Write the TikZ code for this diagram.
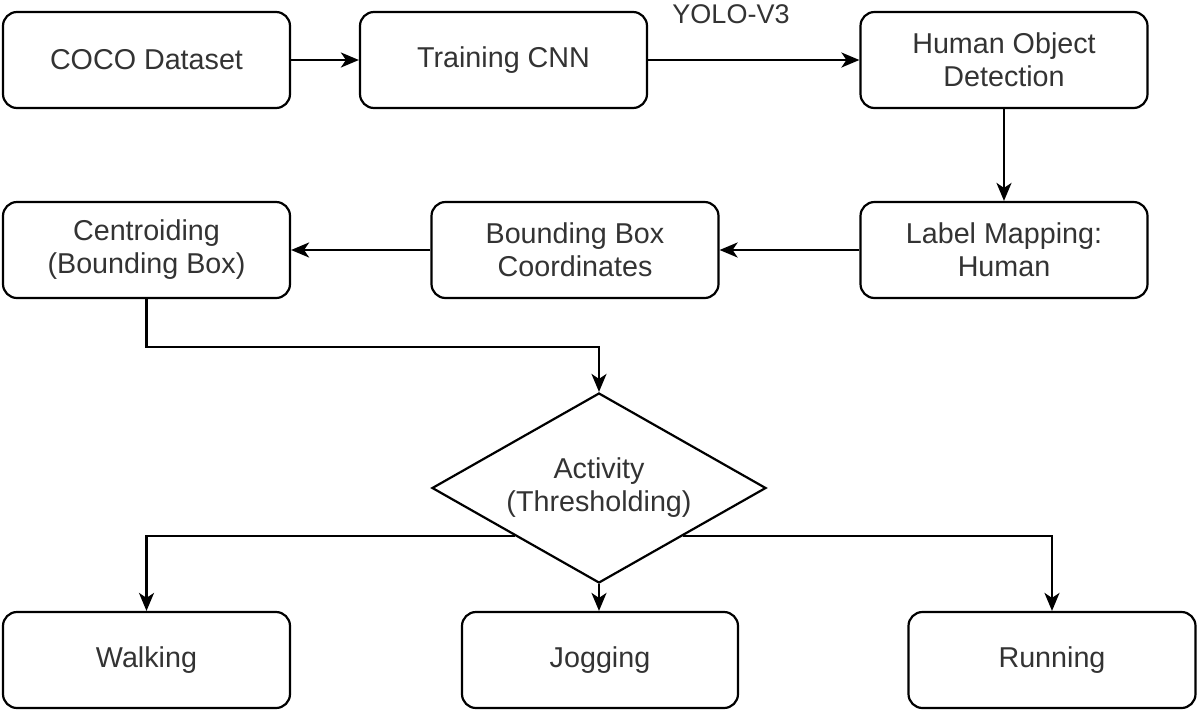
\documentclass[tikz,border=0pt]{standalone}
\usepackage{fontspec}
\setmainfont{Liberation Sans}
\usetikzlibrary{shapes.geometric,arrows.meta}
\definecolor{txt}{HTML}{333333}
\begin{document}
\begin{tikzpicture}[x=1pt,y=-1pt,
  box/.style={draw=black,line width=2.2pt,rounded corners=14pt,minimum width=287pt,minimum height=96pt,inner sep=0pt,align=center,text=txt,font=\fontsize{28.7}{33}\selectfont},
  conn/.style={draw=black,line width=2.2pt,-{Stealth[length=18pt,width=15pt,inset=5pt]}},
  plain/.style={draw=black,line width=2.2pt}]
\useasboundingbox (0,0) rectangle (1200,713);
\node[box] (coco) at (146.5,60) {COCO Dataset};
\node[box] (cnn) at (503.5,60) {Training CNN};
\node[box] (hod) at (1004,60) {Human Object\\Detection};
\node[box] (lab) at (1004,250) {Label Mapping:\\Human};
\node[box] (bbc) at (575,250) {Bounding Box\\Coordinates};
\node[box] (cen) at (146.5,250) {Centroiding\\(Bounding Box)};
\node[draw=black,line width=2.2pt,diamond,aspect=1.76,minimum width=334pt,minimum height=190pt,inner sep=0pt,align=center,text=txt,font=\fontsize{28.7}{33}\selectfont] (act) at (599,488) {Activity\\(Thresholding)};
\node[box] (walk) at (146.5,660) {Walking};
\node[box,minimum width=276pt] (jog) at (600,660) {Jogging};
\node[box] (run) at (1052,660) {Running};
\node[text=txt,font=\fontsize{27}{31}\selectfont,inner sep=0pt] (yolo) at (731,14) {YOLO-V3};
\draw[conn] (coco) -- (cnn);
\draw[conn] (cnn) -- (hod);
\draw[conn] (hod) -- (lab);
\draw[conn] (lab) -- (bbc);
\draw[conn] (bbc) -- (cen);
\draw[conn] (cen.south) -- ++(0,48) -| (act.north);
\draw[conn] (act.south west) -| (walk.north);
\draw[conn] (act.south) -- (act.south |- jog.north);
\draw[conn] (act.south east) -| (run.north);
\end{tikzpicture}
\end{document}
